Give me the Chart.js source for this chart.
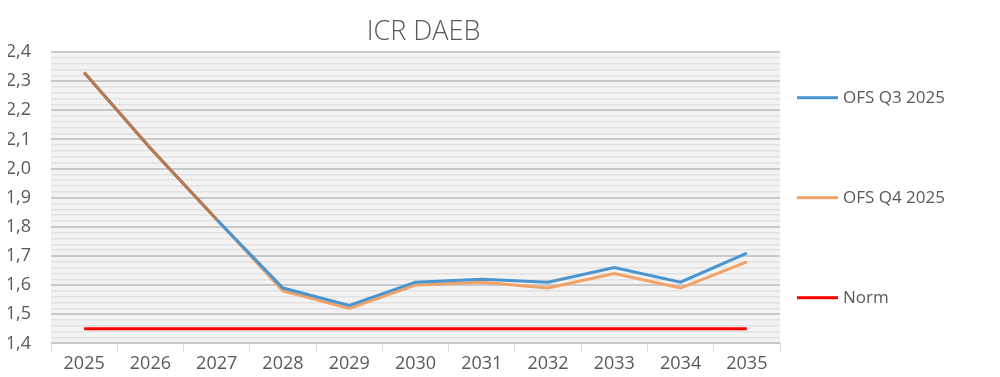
<!DOCTYPE html>
<html>
<head>
<meta charset="utf-8">
<script src="https://cdn.jsdelivr.net/npm/chart.js@4/dist/chart.umd.min.js"></script>
<style>
  html,body{margin:0;padding:0;background:#fff;}
  #wrap{width:1000px;height:377px;position:relative;}
</style>
</head>
<body>
<div id="wrap"><canvas id="chart"></canvas></div>
<script>
// Data
const years=['2025','2026','2027','2028','2029','2030','2031','2032','2033','2034','2035'];
const ofsQ3=[2.33,2.07,1.825,1.59,1.53,1.61,1.62,1.61,1.66,1.61,1.71];
const ofsQ4=[2.33,2.07,1.825,1.58,1.52,1.60,1.61,1.59,1.64,1.59,1.68];
const norm=[1.45,1.45,1.45,1.45,1.45,1.45,1.45,1.45,1.45,1.45,1.45];
const seriesNames=['OFS Q3 2025','OFS Q4 2025','Norm'];
const chartTitle='ICR DAEB';

const FONT='"Open Sans", "DejaVu Sans", sans-serif';
const TXT='#595959';
const BLUE='#4a94cf', ORANGE='#f2a266', RED='#ff0000', BROWN='#b47a55';

// where both series overlap, draw the blended colour
function overlap(c){
  const a=c.p0DataIndex, b=c.p1DataIndex;
  return (ofsQ3[a]===ofsQ4[a] && ofsQ3[b]===ofsQ4[b]) ? BROWN : undefined;
}
function isMajor(v){ return Math.abs(v*10-Math.round(v*10))<1e-6; }

// Plot background + title + legend
const decor={
  id:'decor',
  beforeDraw(chart){
    const {ctx,chartArea:a}=chart;
    ctx.save();
    ctx.fillStyle='#f3f3f3';
    ctx.fillRect(a.left,a.top,a.right-a.left,a.bottom-a.top);
    ctx.restore();
  },
  afterDraw(chart){
    const {ctx,chartArea:a}=chart;
    ctx.save();
    ctx.fillStyle=TXT;
    ctx.font='300 27px '+FONT;
    ctx.textAlign='center';
    ctx.textBaseline='middle';
    ctx.fillText(chartTitle,(a.left+a.right)/2+8,32);
    // legend
    const mid=(a.top+a.bottom)/2;
    ctx.font='17px '+FONT;
    ctx.textAlign='left';
    chart.data.datasets.forEach((ds,i)=>{
      const y=mid+(i-1)*100;
      ctx.fillStyle=ds.borderColor;
      ctx.fillRect(a.right+17,y-1.5,41,3);
      ctx.fillStyle=TXT;
      ctx.fillText(ds.label,a.right+63,y);
    });
    ctx.restore();
  }
};

new Chart(document.getElementById('chart'),{
  type:'line',
  data:{
    labels:years,
    datasets:[
      {label:seriesNames[0],data:ofsQ3,borderColor:BLUE,borderWidth:3,pointRadius:0,tension:0,segment:{borderColor:overlap}},
      {label:seriesNames[1],data:ofsQ4,borderColor:ORANGE,borderWidth:3,pointRadius:0,tension:0,segment:{borderColor:overlap}},
      {label:seriesNames[2],data:norm,borderColor:RED,borderWidth:3,pointRadius:0,tension:0}
    ]
  },
  options:{
    responsive:true,
    maintainAspectRatio:false,
    animation:false,
    layout:{padding:{top:52,left:8,right:220,bottom:0}},
    plugins:{legend:{display:false},title:{display:false},tooltip:{enabled:false}},
    scales:{
      x:{
        offset:true,
        border:{display:false},
        grid:{offset:true,drawOnChartArea:false,tickLength:8,color:'#d9d9d9',lineWidth:1},
        ticks:{color:TXT,font:{family:FONT,size:18},padding:2,maxRotation:0}
      },
      y:{
        min:1.4,max:2.4,
        border:{display:false},
        afterFit(s){ s.width=43; },
        grid:{
          drawTicks:false,
          color:c=>isMajor(c.tick.value)?'#c9c9c9':'#e2e2e2',
          lineWidth:c=>isMajor(c.tick.value)?2:1.5
        },
        ticks:{
          stepSize:0.02,autoSkip:false,color:TXT,padding:20,
          font:{family:FONT,size:18},
          callback:v=>isMajor(v)?(Math.round(v*10)/10).toFixed(1).replace('.',','):''
        }
      }
    }
  },
  plugins:[decor]
});
</script>
</body>
</html>
